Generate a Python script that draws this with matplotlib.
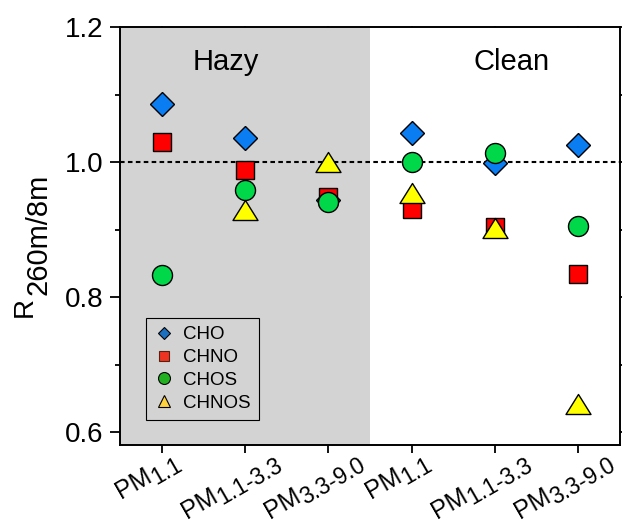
import numpy as np
import matplotlib
matplotlib.use('Agg')
import matplotlib.pyplot as plt
from matplotlib.lines import Line2D
from matplotlib.path import Path
from matplotlib.transforms import ScaledTranslation
from matplotlib.font_manager import FontProperties

plt.rcParams['font.family'] = ['Liberation Sans', 'DejaVu Sans']

# size bins (subscript part of the PM label), hazy first then clean
sizes = ['1.1', '1.1-3.3', '3.3-9.0', '1.1', '1.1-3.3', '3.3-9.0']
periods = ['Hazy', 'Clean']
groups = ['CHO', 'CHNO', 'CHOS', 'CHNOS']

cho = [1.086, 1.035, 0.944, 1.043, 0.998, 1.025]
chno = [1.030, 0.988, 0.948, 0.930, 0.904, 0.834]
chos = [0.833, 0.959, 0.941, 1.000, 1.013, 0.905]
chnos = [np.nan, 0.929, 1.000, 0.954, 0.903, 0.641]

fig = plt.figure(figsize=(6.29, 5.23), dpi=100)
ax = fig.add_axes([120/629, 1-445/523, 500/629, 418/523])

x = np.arange(len(sizes))
ax.set_xlim(-0.5, 5.5)
ax.set_ylim(0.581, 1.2)

# hazy period shading + reference line
ax.axvspan(-0.5, 2.5, color='#d3d3d3', lw=0, zorder=0)
ax.axhline(1.0, color='black', lw=1.5, ls=(0, (2.2, 1.6)), zorder=1)

tri = Path([(0, 0.8), (-1, -0.8), (1, -0.8), (0, 0.8)],
           [Path.MOVETO, Path.LINETO, Path.LINETO, Path.CLOSEPOLY])

ax.plot(x, cho, ls='none', marker='D', ms=12.7, mfc='#0a7df2', mec='black', mew=1, zorder=3)
ax.plot(x, chno, ls='none', marker='s', ms=13, mfc='#ff0000', mec='black', mew=1, zorder=4)
ax.plot(x, chos, ls='none', marker='o', ms=14.4, mfc='#00d84a', mec='black', mew=1, zorder=5)
ax.plot(x, chnos, ls='none', marker=tri, ms=18, mfc='#ffff00', mec='black', mew=1, zorder=6)

# period labels
ax.text(0.77, 1.136, periods[0], ha='center', va='baseline', fontsize=21)
ax.text(4.2, 1.136, periods[1], ha='center', va='baseline', fontsize=21)

# legend uses smaller, slightly different colored markers
handles = [
    Line2D([], [], ls='none', marker='D', ms=6.2, mfc='#1a6fbf', mec='black', mew=0.8),
    Line2D([], [], ls='none', marker='s', ms=7, mfc='#ee3322', mec='#552211', mew=0.8),
    Line2D([], [], ls='none', marker='o', ms=8.6, mfc='#20b020', mec='black', mew=0.8),
    Line2D([], [], ls='none', marker='^', ms=9, mfc='#ffd23f', mec='black', mew=0.8),
]
leg = ax.legend(handles, groups, loc='upper left', bbox_to_anchor=(0.052, 0.304),
                borderaxespad=0, fontsize=13.5, frameon=True, fancybox=False,
                edgecolor='black', facecolor='none', framealpha=1,
                handlelength=1.0, handletextpad=0.5, labelspacing=0.3,
                borderpad=0.45)
leg.get_frame().set_linewidth(0.8)

# axes styling
for s in ax.spines.values():
    s.set_linewidth(1.4)
ax.set_yticks([0.6, 0.8, 1.0, 1.2])
ax.set_yticklabels(['0.6', '0.8', '1.0', '1.2'], fontsize=20)
ax.set_yticks([0.7, 0.9, 1.1], minor=True)
ax.set_xticks(x)
ax.set_xticklabels([])
ax.tick_params(axis='y', which='major', direction='out', length=7, width=1.3, pad=5)
ax.tick_params(axis='y', which='minor', direction='out', length=3.6, width=1.3)
ax.tick_params(axis='x', which='major', direction='out', length=6, width=1.3)
ax.tick_params(axis='y', which='both', right=True)
ax.tick_params(axis='x', which='both', top=True)

# right/top ticks are tiny stubs
for t in ax.yaxis.get_major_ticks() + ax.yaxis.get_minor_ticks():
    t.tick2line.set_markersize(1.5)
for t in ax.xaxis.get_major_ticks():
    t.tick2line.set_markersize(1.0)

# x tick labels: "PM" + lowered subscript, rotated
rot = 30
fp1 = FontProperties(family='Liberation Sans', size=18)
fp2 = FontProperties(family='Liberation Sans', size=16.5)
renderer = fig.canvas.get_renderer()
ang = np.deg2rad(rot)
u = np.array([np.cos(ang), np.sin(ang)])
n = np.array([np.sin(ang), -np.cos(ang)])
cap = 0.72 * 18 * fig.dpi / 72
d = 5.0
for i, sub in enumerate(sizes):
    w1 = renderer.get_text_width_height_descent('PM', fp1, ismath=False)[0]
    w2 = renderer.get_text_width_height_descent(sub, fp2, ismath=False)[0]
    L = w1 + w2
    bh = L * np.sin(ang) + (cap + d) * np.cos(ang)
    c = np.array([-14.0, -(4.0 + bh / 2)])
    j = c - (w2 - w1) / 2 * u - (d - cap) / 2 * n
    k = j + d * n
    tr1 = ax.get_xaxis_transform() + ScaledTranslation(j[0]/fig.dpi, j[1]/fig.dpi, fig.dpi_scale_trans)
    tr2 = ax.get_xaxis_transform() + ScaledTranslation(k[0]/fig.dpi, k[1]/fig.dpi, fig.dpi_scale_trans)
    ax.text(i, 0, 'PM', transform=tr1, rotation=rot, rotation_mode='anchor',
            ha='right', va='baseline', fontproperties=fp1, clip_on=False)
    ax.text(i, 0, sub, transform=tr2, rotation=rot, rotation_mode='anchor',
            ha='left', va='baseline', fontproperties=fp2, clip_on=False)

# y label: R with a large, lowered subscript
fig.text(32/629, 1-317/523, 'R', rotation=90, rotation_mode='anchor',
         ha='left', va='baseline', fontsize=20)
fig.text(47/629, 1-295/523, '260m/8m', rotation=90, rotation_mode='anchor',
         ha='left', va='baseline', fontsize=21)

fig.savefig('out.png', dpi=100)
